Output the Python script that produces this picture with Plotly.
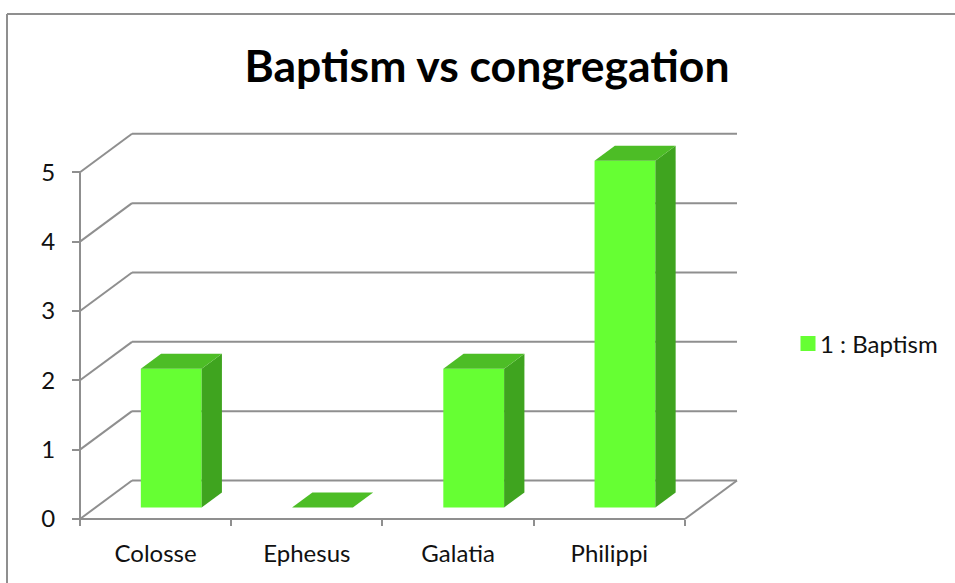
import plotly.graph_objects as go

categories = ["Colosse", "Ephesus", "Galatia", "Philippi"]
baptism = [2, 0, 2, 5]
y_ticks = [0, 1, 2, 3, 4, 5]
series_name = "1 : Baptism"
title_text = "Baptism vs congregation"

GRAY = "#8F8F8F"
FRONT, SIDE, TOP = "#66FF33", "#3FA41F", "#4DBD26"
FONT = "Lato"

# pseudo-3D projection, in axis units
DX, DY = 0.344, 0.555          # depth of the box
NEAR, FAR = 0.30, 0.69         # depth span occupied by the bars
BAR_W = 0.402

def project(x, y, d):
    return x + DX * d, y + DY * d

n = len(categories)
centers = [i + 0.5 for i in range(n)]
fig = go.Figure()

# front faces
bx = [project(c, 0, NEAR)[0] for c in centers]
by = [project(c, 0, NEAR)[1] for c in centers]
fig.add_trace(go.Bar(x=bx, y=baptism, base=by, width=BAR_W, marker=dict(color=FRONT, line=dict(width=0)),
                     showlegend=False, hoverinfo="skip"))

# side and top faces
for c, v in zip(centers, baptism):
    l, r = c - BAR_W / 2, c + BAR_W / 2
    pts_side = [project(r, 0, NEAR), project(r, 0, FAR), project(r, v, FAR), project(r, v, NEAR), project(r, 0, NEAR)]
    pts_top = [project(l, v, NEAR), project(r, v, NEAR), project(r, v, FAR), project(l, v, FAR), project(l, v, NEAR)]
    for pts, col in ((pts_side, SIDE), (pts_top, TOP)):
        fig.add_trace(go.Scatter(x=[p[0] for p in pts], y=[p[1] for p in pts], mode="lines", fill="toself",
                                 fillcolor=col, line=dict(width=0, color=col), showlegend=False, hoverinfo="skip"))

# legend entry
fig.add_trace(go.Scatter(x=[None], y=[None], mode="markers", name=series_name,
                         marker=dict(symbol="square", size=15, color=FRONT)))

# wall and floor lines, behind the bars
shapes = []
def seg(x0, y0, x1, y1, xref="x", yref="y"):
    shapes.append(dict(type="line", x0=x0, y0=y0, x1=x1, y1=y1, xref=xref, yref=yref, layer="below",
                       line=dict(color=GRAY, width=2)))

for t in y_ticks:
    bx0, by0 = project(0, t, 1)
    bx1, by1 = project(n, t, 1)
    seg(0, t, bx0, by0)
    seg(bx0, by0, bx1, by1)
seg(0, 0, 0, y_ticks[-1])
seg(0, 0, n, 0)
ex, ey = project(n, 0, 1)
seg(n, 0, ex, ey)

# the plot area is a little larger than the drawn box, so the box's edge lines are not clipped
W, H = 955, 583
X0, X1, Y5TOP, Y0 = 80, 737, 134, 519     # pixel bounds of the drawn box
PAD = 6
L, R, T, B = X0 - PAD, X1 + PAD, Y5TOP - PAD, Y0 + PAD
UX = (X1 - X0) / (n + DX)
UY = (Y0 - Y5TOP) / 5.552
fx = lambda px: (px - L) / (R - L)
fy = lambda py: (B - py) / (B - T)

# outer chart frame, running off the right and bottom of the window
seg(fx(7), fy(14), fx(W + 5), fy(14), "paper", "paper")
seg(fx(7), fy(14), fx(7), fy(H + 5), "paper", "paper")

fig.update_layout(
    width=W, height=H, autosize=False,
    margin=dict(l=L, r=W - R, t=T, b=H - B, pad=0),
    paper_bgcolor="white", plot_bgcolor="white",
    font=dict(family=FONT, color="#111111", size=24),
    title=dict(text=f"<b>{title_text}</b>", x=487 / W, xanchor="center", xref="container",
               y=1 - 66 / H, yanchor="middle", yref="container",
               font=dict(family=FONT, size=44.5, color="#000000")),
    shapes=shapes,
    showlegend=True,
    legend=dict(x=fx(780), xanchor="left", y=fy(344), yanchor="middle", bgcolor="rgba(0,0,0,0)",
                font=dict(family=FONT, size=24), itemclick=False, itemdoubleclick=False),
    xaxis=dict(range=[-PAD / UX, n + DX + PAD / UX], tickmode="array", tickvals=centers, ticktext=categories,
               anchor="free", position=fy(Y0),
               showgrid=False, zeroline=False, showline=False, ticks="", ticklabelstandoff=18,
               minor=dict(tickmode="array", tickvals=list(range(n + 1)), ticks="outside", ticklen=6,
                          tickcolor=GRAY, tickwidth=1.8, showgrid=False),
               tickfont=dict(family=FONT, size=24)),
    yaxis=dict(range=[-PAD / UY, 5.552 + PAD / UY], tickmode="array", tickvals=y_ticks, showgrid=False,
               anchor="free", position=fx(X0),
               zeroline=False, showline=False, ticks="outside", ticklen=8, tickcolor=GRAY, tickwidth=1.8,
               ticklabelstandoff=12, tickfont=dict(family=FONT, size=24)),
    barmode="overlay",
)
post = """
document.body.style.margin = '0';
var gd = document.getElementById('{plot_id}');
function nudge() {
  gd.querySelectorAll('.legendpoints').forEach(function (e) { e.setAttribute('transform', 'translate(8,0)'); });
}
nudge();
gd.on('plotly_afterplot', nudge);
"""
fig.write_html("out.html", config={"displayModeBar": False}, post_script=post)
